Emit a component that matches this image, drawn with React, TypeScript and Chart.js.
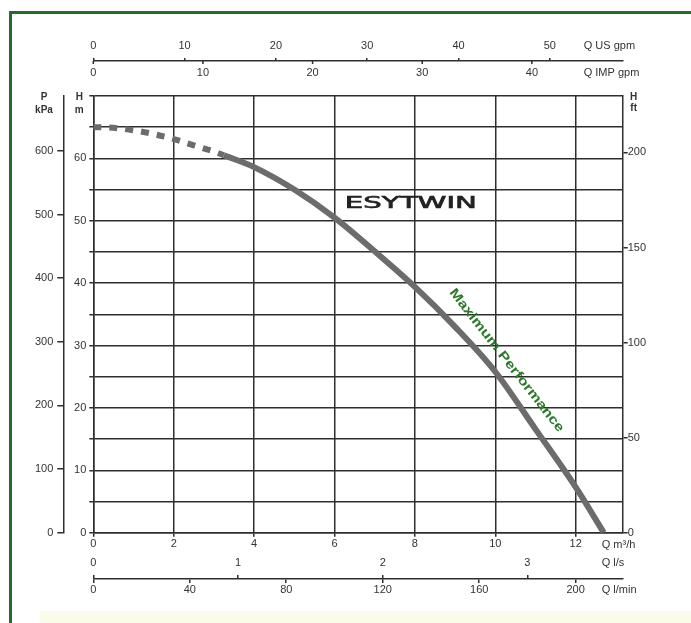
import React, { useEffect, useRef } from "react";
import { Chart, registerables } from "chart.js";

Chart.register(...registerables);

// ---- data (flow Q in m³/h, head H in m) ----
const dashedFlow = [0, 0.5, 1, 1.5, 2, 2.5, 3, 3.25];
const dashedHead = [65, 64.9, 64.5, 63.9, 63.1, 62.1, 61.1, 60.5];
const solidFlow = [3.25, 4, 5, 6, 7, 8, 9, 10, 11, 12, 12.7];
const solidHead = [60.5, 58.6, 55.0, 50.5, 45.1, 39.4, 33.0, 25.8, 16.6, 7.3, 0];

// ---- axis ranges / steps ----
const flowMax = 13.17;
const headMax = 70;
const flowStep = 2;
const headStep = 5;
const headLabelStep = 10;
const usGpmStep = 10;
const impGpmStep = 10;
const lpsStep = 1;
const lpmStep = 40;
const kpaStep = 100;
const ftStep = 50;

// ---- unit conversions ----
const M3H_PER_USGPM = 0.2271247;
const M3H_PER_IMPGPM = 0.2727655;
const M3H_PER_LPS = 3.6;
const M3H_PER_LPM = 0.06;
const KPA_PER_M = 9.80665;
const FT_PER_M = 3.28084;

// ---- texts ----
const brandName = "ESYTWIN";
const curveName = "Maximum Performance";
const brandAt = { q: 7.9, h: 52.6 };
const curveNameAt = { q: 10.28, h: 27.6 };

const FONT = "'Liberation Sans Narrow', 'Liberation Sans', Arial, sans-serif";
const INK = "#333333";
const GRID = "#2e2e2e";

const tickFont = { family: FONT, size: 11, lineHeight: 1.2 };

function fixHeight(h: number) {
  return (s: any) => {
    s.height = h;
  };
}
function fixWidth(w: number) {
  return (s: any) => {
    s.width = w;
  };
}

const baseTicks = {
  color: INK,
  font: tickFont,
  autoSkip: false,
  maxRotation: 0,
  minRotation: 0,
  includeBounds: false,
};

const annotations = {
  id: "annotations",
  afterDraw(chart: any) {
    const ctx = chart.ctx as CanvasRenderingContext2D;
    const xs = chart.scales.x;
    const ys = chart.scales.y;
    const imp = chart.scales.xIMP;
    const us = chart.scales.xUS;
    const area = chart.chartArea;
    ctx.save();

    // IMP gpm tick marks hang below the shared top axis line
    ctx.strokeStyle = GRID;
    ctx.lineWidth = 1.5;
    ctx.beginPath();
    imp.ticks.forEach((t: any) => {
      const px = imp.getPixelForValue(t.value);
      ctx.moveTo(px, us.bottom);
      ctx.lineTo(px, us.bottom + 3);
    });
    ctx.stroke();

    ctx.fillStyle = INK;
    ctx.textBaseline = "middle";

    // axis titles
    ctx.font = `11px ${FONT}`;
    ctx.textAlign = "left";
    const tx = area.right - 39;
    ctx.fillText("Q US gpm", tx, 46);
    ctx.fillText("Q IMP gpm", tx, 73);
    const bx = area.right - 21;
    ctx.fillText("Q m³/h", bx, 545);
    ctx.fillText("Q l/s", bx, 563);
    ctx.fillText("Q l/min", bx, 590);

    ctx.textAlign = "center";
    ctx.font = `bold 10px ${FONT}`;
    ctx.fillText("P", 44, area.top + 1);
    ctx.fillText("kPa", 44, area.top + 14);
    ctx.fillText("H", area.left - 14, area.top + 1);
    ctx.fillText("m", area.left - 14, area.top + 14);
    ctx.fillText("H", area.right + 11, area.top + 1);
    ctx.fillText("ft", area.right + 11, area.top + 12);

    // brand logo
    ctx.save();
    ctx.translate(xs.getPixelForValue(brandAt.q), ys.getPixelForValue(brandAt.h));
    ctx.font = `15px 'DejaVu Sans', sans-serif`;
    const bw = ctx.measureText(brandName).width;
    ctx.scale(132 / bw, 1);
    ctx.fillStyle = "#222";
    ctx.strokeStyle = "#222";
    ctx.lineWidth = 0.6;
    ctx.fillText(brandName, 0, 0);
    ctx.strokeText(brandName, 0, 0);
    ctx.restore();

    // curve name
    ctx.save();
    ctx.translate(xs.getPixelForValue(curveNameAt.q), ys.getPixelForValue(curveNameAt.h));
    ctx.rotate((52 * Math.PI) / 180);
    ctx.font = `bold 13px 'Liberation Sans', Arial, sans-serif`;
    const cw = ctx.measureText(curveName).width;
    ctx.scale(178 / cw, 1);
    ctx.fillStyle = "#2a7a2a";
    ctx.fillText(curveName, 0, 0);
    ctx.restore();

    ctx.restore();
  },
};

export default function App() {
  const ref = useRef<HTMLCanvasElement>(null);

  useEffect(() => {
    if (!ref.current) return;
    const chart = new Chart(ref.current, {
      type: "line",
      data: {
        datasets: [
          {
            data: dashedFlow.map((q, i) => ({ x: q, y: dashedHead[i] })),
            borderColor: "#6c6c6c",
            borderWidth: 6,
            borderDash: [8, 8],
            pointRadius: 0,
            cubicInterpolationMode: "monotone",
            fill: false,
          },
          {
            data: solidFlow.map((q, i) => ({ x: q, y: solidHead[i] })),
            borderColor: "#6c6c6c",
            borderWidth: 6,
            pointRadius: 0,
            cubicInterpolationMode: "monotone",
            fill: false,
          },
        ],
      },
      options: {
        animation: false,
        responsive: false,
        events: [],
        layout: { padding: { top: 20, left: 10, right: 28.3, bottom: 14 } },
        plugins: { legend: { display: false }, tooltip: { enabled: false } },
        scales: {
          x: {
            type: "linear",
            position: "bottom",
            weight: 0,
            min: 0,
            max: flowMax,
            afterFit: fixHeight(46.3),
            ticks: { ...baseTicks, stepSize: flowStep, padding: 0.7 },
            grid: { color: GRID, lineWidth: 1.5, tickLength: 4 },
            border: { display: true, color: GRID, width: 1.5 },
          },
          xLps: {
            type: "linear",
            position: "bottom",
            weight: 1,
            min: 0,
            max: flowMax / M3H_PER_LPS,
            afterFit: fixHeight(0),
            ticks: { ...baseTicks, stepSize: lpsStep, padding: 9.4, mirror: true },
            grid: { color: GRID, lineWidth: 1.5, tickLength: -4, drawOnChartArea: false },
            border: { display: false },
          },
          xLpm: {
            type: "linear",
            position: "bottom",
            weight: 2,
            min: 0,
            max: flowMax / M3H_PER_LPM,
            afterFit: fixHeight(30),
            ticks: { ...baseTicks, stepSize: lpmStep, padding: 0.4 },
            grid: { color: GRID, lineWidth: 1.5, tickLength: 4, drawOnChartArea: false },
            border: { display: true, color: GRID, width: 1.5 },
          },
          xUS: {
            type: "linear",
            position: "top",
            weight: 1,
            min: 0,
            max: flowMax / M3H_PER_USGPM,
            afterFit: fixHeight(41),
            ticks: { ...baseTicks, stepSize: usGpmStep, padding: 5.4 },
            grid: { color: GRID, lineWidth: 1.5, tickLength: 3, drawOnChartArea: false },
            border: { display: true, color: GRID, width: 1.5 },
          },
          xIMP: {
            type: "linear",
            position: "top",
            weight: 0,
            min: 0,
            max: flowMax / M3H_PER_IMPGPM,
            afterFit: fixHeight(35),
            ticks: { ...baseTicks, stepSize: impGpmStep, padding: 16.4 },
            grid: { display: false, drawTicks: false },
            border: { display: false },
          },
          y: {
            type: "linear",
            position: "left",
            weight: 0,
            min: 0,
            max: headMax,
            afterFit: fixWidth(30),
            ticks: {
              ...baseTicks,
              stepSize: headStep,
              padding: 3,
              callback: (v: any) => (v % headLabelStep === 0 && v < headMax ? String(v) : ""),
            },
            grid: { color: GRID, lineWidth: 1.5, tickLength: 4 },
            border: { display: true, color: GRID, width: 1.5 },
          },
          yKpa: {
            type: "linear",
            position: "left",
            weight: 1,
            min: 0,
            max: headMax * KPA_PER_M,
            afterFit: fixWidth(53.3),
            ticks: { ...baseTicks, stepSize: kpaStep, padding: 4 },
            grid: { color: GRID, lineWidth: 1.5, tickLength: 6, drawOnChartArea: false },
            border: { display: true, color: GRID, width: 1.5 },
          },
          yFt: {
            type: "linear",
            position: "right",
            weight: 0,
            min: 0,
            max: headMax * FT_PER_M,
            afterFit: fixWidth(40),
            ticks: { ...baseTicks, stepSize: ftStep, padding: 0 },
            grid: { color: GRID, lineWidth: 1.5, tickLength: 5, drawOnChartArea: false },
            border: { display: true, color: GRID, width: 1.5 },
          },
        },
      },
      plugins: [annotations],
    } as any);
    return () => chart.destroy();
  }, []);

  return (
    <div
      style={{
        position: "fixed",
        left: 0,
        top: 0,
        width: 691,
        height: 623,
        background: "#ffffff",
        overflow: "hidden",
      }}
    >
      <div
        style={{
          position: "absolute",
          left: 9,
          top: 11,
          width: 720,
          height: 660,
          borderLeft: "3px solid #2a6b2a",
          borderTop: "3px solid #2a6b2a",
        }}
      />
      <div
        style={{
          position: "absolute",
          left: 40,
          top: 611,
          width: 651,
          height: 12,
          background: "#fbfbea",
        }}
      />
      <canvas
        ref={ref}
        width={691}
        height={623}
        style={{ position: "absolute", left: 0, top: 0, display: "block" }}
      />
    </div>
  );
}
